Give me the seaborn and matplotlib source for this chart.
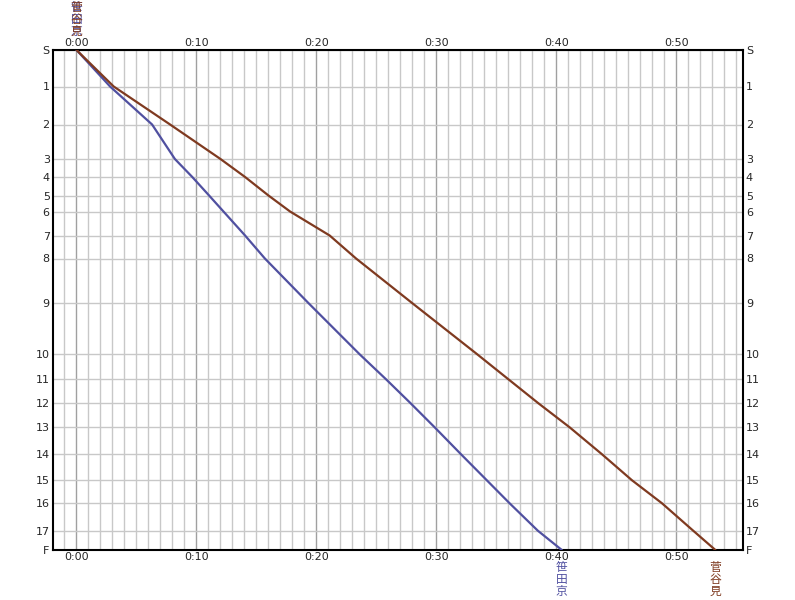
import pandas as pd
import matplotlib
matplotlib.use("Agg")
import matplotlib.pyplot as plt
import seaborn as sns

# Stations and their position along the line (top = start)
stations = ["S", "1", "2", "3", "4", "5", "6", "7", "8", "9",
            "10", "11", "12", "13", "14", "15", "16", "17", "F"]
station_pos = [0, 3.65, 7.45, 10.9, 12.7, 14.55, 16.15, 18.55, 20.85, 25.33,
               30.43, 32.93, 35.33, 37.73, 40.43, 43.03, 45.33, 48.07, 50.0]

# Passing times (minutes) at each station
times_sasada = [0, 2.8, 6.3, 8.2, 9.65, 11.05, 12.25, 14.05, 15.7, 19.35,
                23.6, 25.8, 27.85, 29.85, 32.05, 34.2, 36.1, 38.45, 40.45]
times_sugaya = [0, 3.1, 7.8, 12.0, 14.05, 16.0, 17.8, 21.1, 23.3, 28.0,
                33.4, 36.0, 38.5, 41.1, 43.8, 46.3, 48.8, 51.4, 53.25]

train_names = ["笹田京", "菅谷見"]
train_colors = ["#5050a0", "#7f3a20"]

time_ticks = [0, 10, 20, 30, 40, 50]
time_labels = ["0:00", "0:10", "0:20", "0:30", "0:40", "0:50"]

df = pd.concat([
    pd.DataFrame({"time": times_sasada, "pos": station_pos, "train": train_names[0]}),
    pd.DataFrame({"time": times_sugaya, "pos": station_pos, "train": train_names[1]}),
])

sns.set_style("white")
plt.rcParams["font.family"] = ["DejaVu Sans", "Noto Sans CJK JP"]

fig = plt.figure(figsize=(7.95, 6), dpi=100)
ax = fig.add_axes([52.5 / 795, 50 / 600, 690.5 / 795, 500 / 600])

sns.lineplot(data=df, x="time", y="pos", hue="train", palette=train_colors,
             hue_order=train_names, estimator=None, sort=False, lw=1.6,
             legend=False, ax=ax, zorder=3)

ax.set_xlim(-2, 55.55)
ax.set_ylim(50, 0)

# grid: one line per minute, darker every 10 minutes, one per station
ax.set_xticks(time_ticks)
ax.set_xticklabels(time_labels)
ax.set_xticks(range(-1, 56), minor=True)
ax.set_yticks(station_pos)
ax.set_yticklabels(stations)
ax.xaxis.grid(True, which="minor", color="#c8c8c8", lw=1)
ax.xaxis.grid(True, which="major", color="#a0a0a0", lw=1)
ax.yaxis.grid(True, which="major", color="#c8c8c8", lw=1)
ax.set_axisbelow(True)

ax.tick_params(axis="x", which="both", length=0, labeltop=True, labelbottom=True,
               labelsize=8, pad=1.5)
ax.tick_params(axis="y", which="both", length=0, labelleft=True, labelright=True,
               labelsize=8, pad=2)

for sp in ax.spines.values():
    sp.set_color("black")
    sp.set_linewidth(1.5)

ax.set_xlabel("")
ax.set_ylabel("")


def vertical_name(x, y_axes, dy_start, name, color):
    for i, ch in enumerate(name):
        ax.annotate(ch, xy=(x, y_axes), xycoords=("data", "axes fraction"),
                    xytext=(0, dy_start - i * 8.5), textcoords="offset points",
                    ha="center", va="center", fontsize=8.5, color=color,
                    family=["Noto Sans CJK JP", "DejaVu Sans"], annotation_clip=False)


# origin labels at the top (both trains start together)
vertical_name(0, 1.0, 30.5, train_names[0], train_colors[0])
vertical_name(0, 1.0, 30.5, train_names[1], train_colors[1])
# destination labels under each arrival
vertical_name(times_sasada[-1], 0.0, -12.8, train_names[0], train_colors[0])
vertical_name(times_sugaya[-1], 0.0, -12.8, train_names[1], train_colors[1])

fig.savefig("out.png", dpi=100)
